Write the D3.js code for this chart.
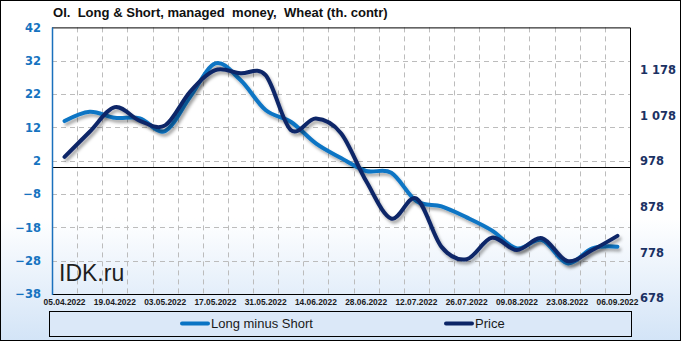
<!DOCTYPE html>
<html>
<head>
<meta charset="utf-8">
<script src="https://cdn.jsdelivr.net/npm/d3@7/dist/d3.min.js"></script>
<style>
  html, body { margin: 0; padding: 0; background: #fff; }
  svg { display: block; }
</style>
</head>
<body>
<svg id="chart" width="681" height="341"></svg>
<script>
// ---------------- DATA ----------------
const dates = ["05.04.2022","12.04.2022","19.04.2022","26.04.2022","03.05.2022","10.05.2022",
  "17.05.2022","24.05.2022","31.05.2022","07.06.2022","14.06.2022","21.06.2022","28.06.2022",
  "05.07.2022","12.07.2022","19.07.2022","26.07.2022","02.08.2022","09.08.2022","16.08.2022",
  "23.08.2022","30.08.2022","06.09.2022"];
const longMinusShort = [13.9, 16.7, 14.9, 14.7, 10.9, 21.2, 31.2, 26.2, 17.2, 13.7, 7.2, 2.8,
  -1.1, -1.6, -10.1, -11.7, -15.0, -18.9, -24.3, -21.8, -28.8, -24.3, -23.8];
const price = [987, 1042, 1096, 1066, 1056, 1130, 1177, 1170, 1166, 1046, 1071, 1039,
  934, 852, 896, 790, 763, 810, 783, 809, 759, 783, 814];
const leftTicks = [42, 32, 22, 12, 2, -8, -18, -28, -38];
const rightTicks = [1178, 1078, 978, 878, 778, 678];
const rightTickLabels = ["1 178", "1 078", "978", "878", "778", "678"];
const xTickLabels = ["05.04.2022","19.04.2022","03.05.2022","17.05.2022","31.05.2022","14.06.2022",
  "28.06.2022","12.07.2022","26.07.2022","09.08.2022","23.08.2022","06.09.2022"];
const seriesNames = ["Long minus Short", "Price"];
const titleText = "OI.  Long & Short, managed  money,  Wheat (th. contr)";
const watermark = "IDK.ru";

// ---------------- LAYOUT ----------------
const W = 681, H = 341;
const plot = { left: 52, right: 630, top: 27.4, bottom: 294 };
const colLight = "#0a74c4", colDark = "#0c2567";

const svg = d3.select("#chart");
const defs = svg.append("defs");

const grad = defs.append("linearGradient").attr("id", "bg").attr("x1", 0).attr("y1", 0).attr("x2", 0).attr("y2", 1);
grad.append("stop").attr("offset", "0.64").attr("stop-color", "#ffffff");
grad.append("stop").attr("offset", "1").attr("stop-color", "#d3e4f7");

const shadow = defs.append("filter").attr("id", "shadow")
  .attr("x", "-5%").attr("y", "-5%").attr("width", "110%").attr("height", "120%");
shadow.append("feDropShadow").attr("dx", 2).attr("dy", 3).attr("stdDeviation", 1.6)
  .attr("flood-color", "#000").attr("flood-opacity", 0.33);

svg.append("rect").attr("x", 0.5).attr("y", 0.5).attr("width", W - 1).attr("height", H - 1)
  .attr("fill", "url(#bg)").attr("stroke", "#000").attr("stroke-width", 1);

// ---------------- SCALES ----------------
const x = d3.scaleBand().domain(dates).range([plot.left, plot.right]).paddingInner(0).paddingOuter(0);
const xc = d => x(d) + x.bandwidth() / 2;
const yL = d3.scaleLinear().domain([-38, 42]).range([plot.bottom, plot.top]);
const yR = d3.scaleLinear().domain([678, 1278]).range([298, 24]);

// ---------------- GRID ----------------
const grid = svg.append("g").attr("stroke", "#bcbcbc").attr("stroke-width", 1).attr("stroke-dasharray", "5,4");
grid.selectAll("line.h").data(leftTicks.filter(t => t !== 42 && t !== -38)).join("line")
  .attr("x1", plot.left).attr("x2", plot.right)
  .attr("y1", d => Math.round(yL(d)) + 0.5).attr("y2", d => Math.round(yL(d)) + 0.5);
grid.selectAll("line.v").data(dates.slice(1)).join("line")
  .attr("x1", d => Math.round(x(d)) + 0.5).attr("x2", d => Math.round(x(d)) + 0.5)
  .attr("y1", plot.top).attr("y2", plot.bottom);

// plot border (top, right, bottom)
svg.append("path")
  .attr("d", `M${plot.left},${plot.top + 0.5}H${plot.right + 0.5}V${plot.bottom + 0.5}H${plot.left}`)
  .attr("fill", "none").attr("stroke", "#000").attr("stroke-width", 1);
// zero line
svg.append("line").attr("x1", plot.left).attr("x2", plot.right)
  .attr("y1", Math.round(yL(0)) + 0.5).attr("y2", Math.round(yL(0)) + 0.5)
  .attr("stroke", "#000").attr("stroke-width", 1.2);
// left axis line
svg.append("line").attr("x1", plot.left + 0.5).attr("x2", plot.left + 0.5)
  .attr("y1", plot.top).attr("y2", plot.bottom + 1)
  .attr("stroke", "#1a70bd").attr("stroke-width", 1.5);

// ---------------- AXES ----------------
const axL = svg.append("g").attr("transform", `translate(${plot.left},0)`)
  .call(d3.axisLeft(yL).tickValues(leftTicks).tickSize(0).tickPadding(11).tickFormat(d3.format("d")));
axL.select(".domain").remove();
axL.selectAll("text").attr("font-family", "'DejaVu Sans', sans-serif").attr("font-weight", "bold")
  .attr("font-size", "11.5px").attr("fill", "#1673c0");

const axR = svg.append("g").attr("transform", `translate(${plot.right},0)`)
  .call(d3.axisRight(yR).tickValues(rightTicks).tickSize(0).tickPadding(10)
    .tickFormat((d, i) => rightTickLabels[i]));
axR.select(".domain").remove();
axR.selectAll("text").attr("font-family", "'DejaVu Sans', sans-serif").attr("font-weight", "bold")
  .attr("font-size", "11.5px").attr("fill", "#1b3163").style("white-space", "pre");

const axX = svg.append("g").attr("transform", `translate(0,${plot.bottom})`)
  .call(d3.axisBottom(x).tickValues(xTickLabels).tickSize(0).tickPadding(5));
axX.select(".domain").remove();
axX.selectAll("text").attr("font-family", "'Liberation Sans', Arial, sans-serif").attr("font-weight", "bold")
  .attr("font-size", "8.4px").attr("fill", "#1a1a1a");

// ---------------- LINES ----------------
const lineL = d3.line().x((d, i) => xc(dates[i])).y(d => yL(d)).curve(d3.curveCardinal.tension(0));
const lineR = d3.line().x((d, i) => xc(dates[i])).y(d => yR(d)).curve(d3.curveCardinal.tension(0));

svg.append("path").datum(longMinusShort).attr("d", lineL)
  .attr("fill", "none").attr("stroke", colLight).attr("stroke-width", 4)
  .attr("stroke-linecap", "round").attr("stroke-linejoin", "round").attr("filter", "url(#shadow)");
svg.append("path").datum(price).attr("d", lineR)
  .attr("fill", "none").attr("stroke", colDark).attr("stroke-width", 4)
  .attr("stroke-linecap", "round").attr("stroke-linejoin", "round").attr("filter", "url(#shadow)");

// ---------------- TITLE & WATERMARK ----------------
const title = svg.append("text").attr("x", 53).attr("y", 17)
  .attr("font-family", "'Liberation Sans', Arial, sans-serif").attr("font-weight", "bold")
  .attr("font-size", "12px").attr("fill", "#111").style("white-space", "pre").text(titleText);
const tl = title.node().getComputedTextLength();
title.attr("font-size", (12 * 335 / tl).toFixed(2) + "px");

svg.append("text").attr("x", 59).attr("y", 281)
  .attr("font-family", "'Liberation Sans', Arial, sans-serif").attr("font-size", "23px")
  .attr("fill", "#1e1e1e").text(watermark);

// ---------------- LEGEND ----------------
const lg = svg.append("g");
lg.append("rect").attr("x", 49.5).attr("y", 311.5).attr("width", 582).attr("height", 25)
  .attr("fill", "#dbe8f8").attr("stroke", "#000").attr("stroke-width", 1);
const legendItems = [
  { name: seriesNames[0], color: colLight, x1: 182, x2: 208, tx: 211 },
  { name: seriesNames[1], color: colDark, x1: 446, x2: 472, tx: 475 }
];
legendItems.forEach(it => {
  lg.append("line").attr("x1", it.x1).attr("x2", it.x2).attr("y1", 323.5).attr("y2", 323.5)
    .attr("stroke", it.color).attr("stroke-width", 4).attr("stroke-linecap", "round");
  lg.append("text").attr("x", it.tx).attr("y", 328)
    .attr("font-family", "'Liberation Sans', Arial, sans-serif").attr("font-size", "13px")
    .attr("fill", "#1a1a1a").text(it.name);
});
</script>
</body>
</html>
